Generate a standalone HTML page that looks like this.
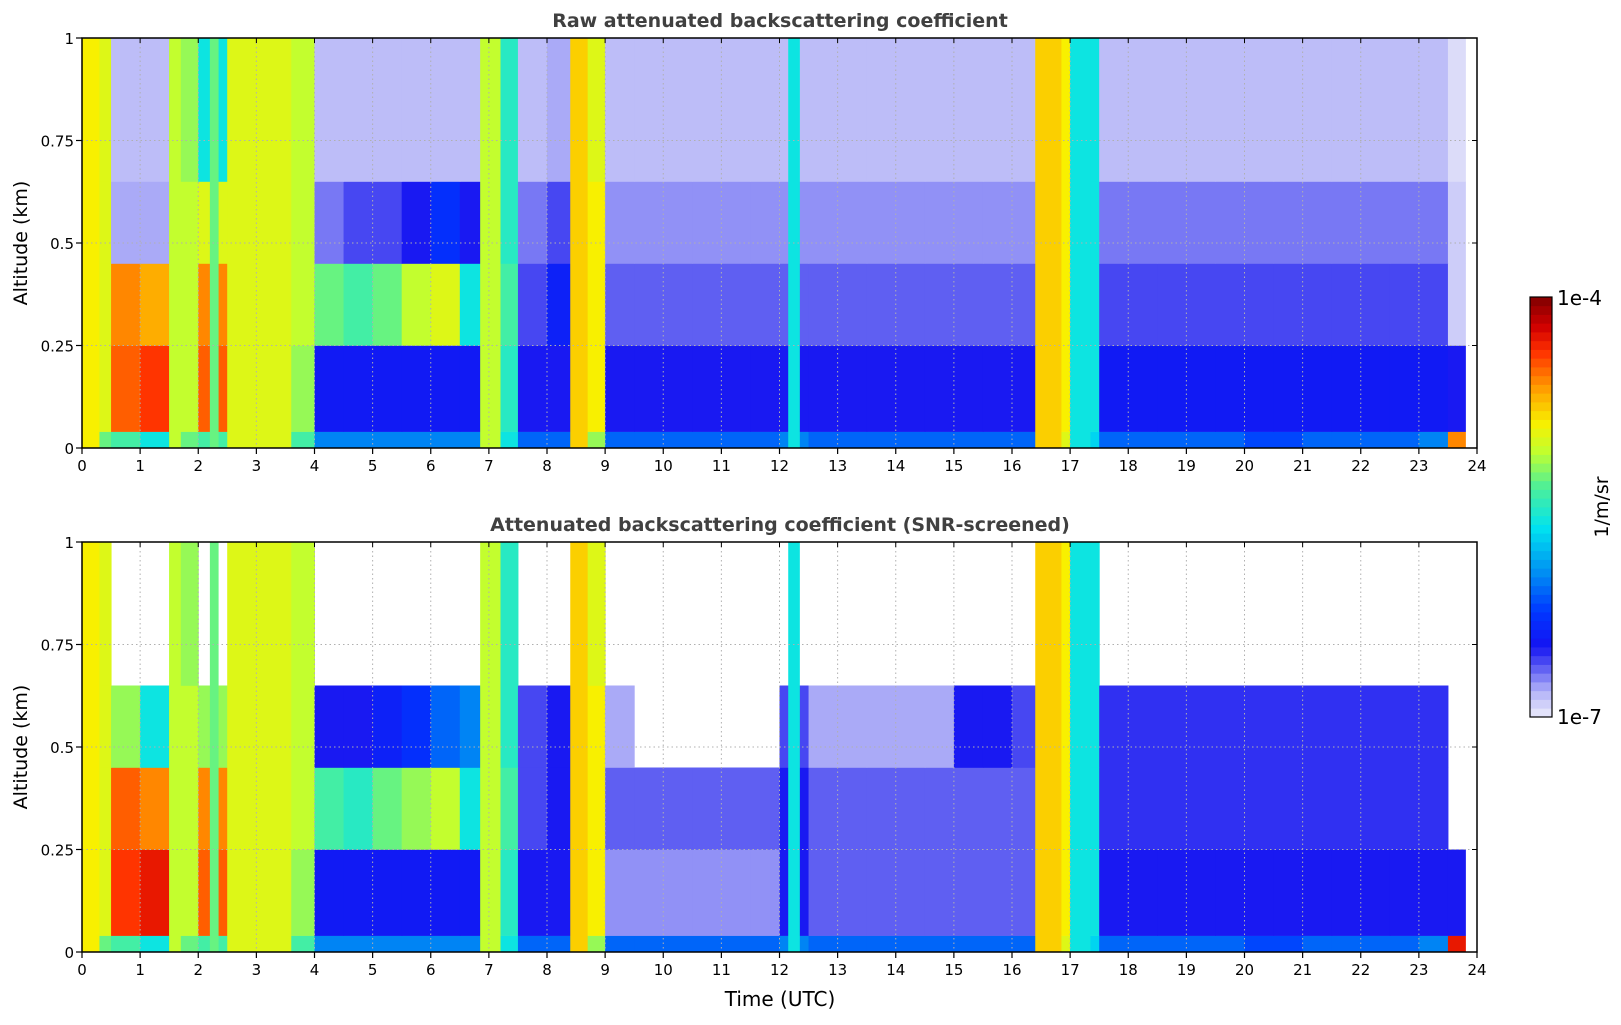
<!DOCTYPE html>
<html><head><meta charset="utf-8">
<style>
body{margin:0;background:#fff;width:1621px;height:1020px;overflow:hidden;font-family:"Liberation Sans","DejaVu Sans",sans-serif;}
svg text{font-family:"DejaVu Sans","Liberation Sans",sans-serif;}
</style></head>
<body>
<svg id="chart" width="1621" height="1020" xmlns="http://www.w3.org/2000/svg">
<text x="780" y="27" text-anchor="middle" font-size="19" font-weight="bold" fill="#404040">Raw attenuated backscattering coefficient</text>
<text x="780" y="531" text-anchor="middle" font-size="19" font-weight="bold" fill="#404040">Attenuated backscattering coefficient (SNR-screened)</text>
<text x="780" y="1006" text-anchor="middle" font-size="20" fill="#000">Time (UTC)</text>
<text transform="translate(27,243) rotate(-90)" text-anchor="middle" font-size="19">Altitude (km)</text>
<text transform="translate(27,747) rotate(-90)" text-anchor="middle" font-size="19">Altitude (km)</text>
<g id="cbar"></g>
<text x="1557" y="305" font-size="20">1e-4</text>
<text x="1557" y="724" font-size="20">1e-7</text>
<text transform="translate(1608,507) rotate(-90)" text-anchor="middle" font-size="19">1/m/sr</text>
</svg>
<script>
// altitude layer boundaries (km)
const layerBounds = [0, 0.04, 0.25, 0.45, 0.65, 1.0];
// 48 half-hour bins, values = log10 backscatter (null = no data)
const rawL0 = [-5.3,-5.4,-5.6,-5.3,-5.4,-5.2,-5.2,-5.4,-6.0,-6.0,-6.0,-6.0,-6.0,-6.0,-5.6,-6.1,-6.1,-5.2,-6.1,-6.1,-6.1,-6.1,-6.1,-6.1,-6.0,-6.1,-6.1,-6.1,-6.1,-6.1,-6.1,-6.1,-6.1,-5.0,-5.7,-6.1,-6.1,-6.1,-6.1,-6.1,-6.2,-6.2,-6.1,-6.1,-6.1,-6.1,-6.0,-4.6];
const rawL1 = [-5.0,-4.5,-4.4,-5.1,-4.5,-5.0,-5.0,-5.2,-6.45,-6.45,-6.45,-6.45,-6.45,-6.45,-5.5,-6.5,-6.5,-4.9,-6.5,-6.5,-6.5,-6.5,-6.5,-6.5,-6.5,-6.5,-6.5,-6.5,-6.5,-6.5,-6.5,-6.5,-6.5,-4.9,-5.6,-6.45,-6.45,-6.45,-6.45,-6.45,-6.45,-6.45,-6.45,-6.45,-6.45,-6.45,-6.45,-6.5];
const rawL2 = [-5.0,-4.6,-4.7,-5.1,-4.6,-5.0,-5.0,-5.1,-5.3,-5.4,-5.3,-5.1,-5.0,-5.6,-5.4,-6.6,-6.4,-4.9,-6.65,-6.65,-6.65,-6.65,-6.65,-6.65,-6.65,-6.65,-6.65,-6.65,-6.65,-6.65,-6.65,-6.65,-6.65,-4.9,-5.6,-6.6,-6.6,-6.6,-6.6,-6.6,-6.6,-6.6,-6.6,-6.6,-6.6,-6.6,-6.6,-6.9];
const rawL3 = [-5.0,-6.8,-6.8,-5.1,-5.0,-5.0,-5.0,-5.1,-6.7,-6.6,-6.6,-6.5,-6.3,-6.5,-5.5,-6.7,-6.6,-4.9,-6.75,-6.75,-6.75,-6.75,-6.75,-6.75,-6.75,-6.75,-6.75,-6.75,-6.75,-6.75,-6.75,-6.75,-6.75,-4.9,-5.6,-6.7,-6.7,-6.7,-6.7,-6.7,-6.7,-6.7,-6.7,-6.7,-6.7,-6.7,-6.7,-6.9];
const rawL4 = [-5.0,-6.85,-6.85,-5.2,-5.6,-5.0,-5.0,-5.1,-6.85,-6.85,-6.85,-6.85,-6.85,-6.85,-5.5,-6.85,-6.8,-5.0,-6.85,-6.85,-6.85,-6.85,-6.85,-6.85,-6.85,-6.85,-6.85,-6.85,-6.85,-6.85,-6.85,-6.85,-6.85,-4.9,-5.6,-6.85,-6.85,-6.85,-6.85,-6.85,-6.85,-6.85,-6.85,-6.85,-6.85,-6.85,-6.85,-6.95];
const scrL0 = [-5.3,-5.4,-5.6,-5.3,-5.4,-5.2,-5.2,-5.4,-6.0,-6.0,-6.0,-6.0,-6.0,-6.0,-5.6,-6.1,-6.1,-5.2,-6.1,-6.1,-6.1,-6.1,-6.1,-6.1,-6.0,-6.1,-6.1,-6.1,-6.1,-6.1,-6.1,-6.1,-6.1,-5.0,-5.7,-6.1,-6.1,-6.1,-6.1,-6.1,-6.2,-6.2,-6.1,-6.1,-6.1,-6.1,-6.0,-4.3];
const scrL1 = [-5.0,-4.4,-4.3,-5.1,-4.5,-5.0,-5.0,-5.2,-6.45,-6.45,-6.45,-6.45,-6.45,-6.45,-5.5,-6.5,-6.5,-4.9,-6.75,-6.75,-6.75,-6.75,-6.75,-6.75,-6.5,-6.65,-6.65,-6.65,-6.65,-6.65,-6.65,-6.65,-6.65,-4.9,-5.6,-6.5,-6.5,-6.5,-6.5,-6.5,-6.5,-6.5,-6.5,-6.5,-6.5,-6.5,-6.5,-6.5];
const scrL2 = [-5.0,-4.5,-4.6,-5.1,-4.6,-5.0,-5.0,-5.1,-5.4,-5.5,-5.3,-5.2,-5.1,-5.6,-5.4,-6.6,-6.5,-4.9,-6.65,-6.65,-6.65,-6.65,-6.65,-6.65,-6.5,-6.65,-6.65,-6.65,-6.65,-6.65,-6.65,-6.65,-6.65,-4.9,-5.6,-6.55,-6.55,-6.55,-6.55,-6.55,-6.55,-6.55,-6.55,-6.55,-6.55,-6.55,-6.55,null];
const scrL3 = [-5.0,-5.2,-5.6,-5.1,-5.2,-5.0,-5.0,-5.1,-6.5,-6.5,-6.4,-6.3,-6.1,-6.0,-5.5,-6.6,-6.5,-4.9,-6.8,null,null,null,null,null,-6.6,-6.8,-6.8,-6.8,-6.8,-6.8,-6.5,-6.5,-6.6,-4.9,-5.6,-6.55,-6.55,-6.55,-6.55,-6.55,-6.55,-6.55,-6.55,-6.55,-6.55,-6.55,-6.55,null];
const scrL4 = [-5.0,null,null,-5.2,null,-5.0,-5.0,-5.1,null,null,null,null,null,null,-5.5,null,null,-5.0,null,null,null,null,null,null,null,null,null,null,null,null,null,null,null,-4.9,-5.6,null,null,null,null,null,null,null,null,null,null,null,null,null];
// vertical column events: start hour, end hour, value
const colStart = [0.0, 1.5, 2.2, 2.5, 6.85, 8.4, 12.15, 16.4, 17.0];
const colEnd   = [0.3, 1.7, 2.35, 3.6, 7.2, 8.7, 12.35, 16.85, 17.35];
const colValue = [-4.9, -5.1, -5.3, -5.0, -5.1, -4.8, -5.6, -4.8, -5.6];
const xTicks = [0,1,2,3,4,5,6,7,8,9,10,11,12,13,14,15,16,17,18,19,20,21,22,23,24];
const yTicks = [0,0.25,0.5,0.75,1];
const yTickLabels = ["0","0.25","0.5","0.75","1"];
const dataEnd = 23.8;

const NS="http://www.w3.org/2000/svg";
const svg=document.getElementById('chart');
const X0=82, X1=1477;
const panels=[{top:38,bot:448,layers:[rawL0,rawL1,rawL2,rawL3,rawL4],name:'raw'},
              {top:542,bot:952,layers:[scrL0,scrL1,scrL2,scrL3,scrL4],name:'screened'}];
const stops=[[0,'#ececfa'],[0.06,'#b4b4f8'],[0.12,'#5a5af2'],[0.17,'#1414f2'],[0.25,'#0036ff'],[0.35,'#0094f2'],[0.45,'#00e2f0'],[0.55,'#50f096'],[0.63,'#c0ff30'],[0.70,'#f8f000'],[0.78,'#ffa000'],[0.87,'#ff3000'],[0.93,'#d00000'],[1,'#800000']];
function hex(c){return [1,3,5].map(i=>parseInt(c.substr(i,2),16));}
function cmap(v){let t=Math.max(0,Math.min(1,(v+7)/3));
  for(let i=1;i<stops.length;i++){if(t<=stops[i][0]){const a=stops[i-1],b=stops[i];const f=(t-a[0])/(b[0]-a[0]);const ca=hex(a[1]),cb=hex(b[1]);
    return 'rgb('+ca.map((x,k)=>Math.round(x+(cb[k]-x)*f)).join(',')+')';}}
  return stops[stops.length-1][1];}
function xs(t){return X0+t/24*(X1-X0);}
function mk(tag,attrs,parent){const e=document.createElementNS(NS,tag);for(const k in attrs)e.setAttribute(k,attrs[k]);(parent||svg).appendChild(e);return e;}

panels.forEach(p=>{
  const ys=a=>p.bot-a*(p.bot-p.top);
  const g=mk('g',{});
  
  
  p.layers.forEach((arr,li)=>{
    arr.forEach((v,i)=>{
      if(v===null)return;
      const t0=i*0.5, t1=Math.min((i+1)*0.5,dataEnd);
      if(t1<=t0)return;
      const r=mk('rect',{x:xs(t0),y:ys(layerBounds[li+1]),width:xs(t1)-xs(t0)+0.5,height:ys(layerBounds[li])-ys(layerBounds[li+1])+0.3,fill:cmap(v)},g);
      
      
    });
  });
  colStart.forEach((s,i)=>{
    const r=mk('rect',{x:xs(s),y:ys(1),width:xs(colEnd[i])-xs(s),height:ys(0)-ys(1),fill:cmap(colValue[i])},g);
    
    
  });
  xTicks.forEach(t=>{if(t>0&&t<24){const l=mk('line',{x1:xs(t),x2:xs(t),y1:p.top,y2:p.bot,stroke:'#b0b0b0','stroke-dasharray':'1.5,3','stroke-width':1});
    
    }});
  yTicks.forEach(a=>{if(a>0&&a<1){const l=mk('line',{x1:X0,x2:X1,y1:ys(a),y2:ys(a),stroke:'#b0b0b0','stroke-dasharray':'1.5,3','stroke-width':1});
    
    }});
  const fr=mk('rect',{x:X0,y:p.top,width:X1-X0,height:p.bot-p.top,fill:'none',stroke:'#000','stroke-width':1.5});
  
  
  xTicks.forEach(t=>{
    mk('line',{x1:xs(t),x2:xs(t),y1:p.bot,y2:p.bot+6,stroke:'#000','stroke-width':1.2});
    mk('line',{x1:xs(t),x2:xs(t),y1:p.top,y2:p.top+5,stroke:'#000','stroke-width':1});
    const tx=mk('text',{x:xs(t),y:p.bot+23,'text-anchor':'middle','font-size':15});
    tx.textContent=t;
    
    
  });
  yTicks.forEach((a,i)=>{
    mk('line',{x1:X0-6,x2:X0,y1:ys(a),y2:ys(a),stroke:'#000','stroke-width':1.2});
    mk('line',{x1:X1-5,x2:X1,y1:ys(a),y2:ys(a),stroke:'#000','stroke-width':1});
    const tx=mk('text',{x:X0-8,y:ys(a)+6,'text-anchor':'end','font-size':15});
    tx.textContent=yTickLabels[i];
    
    
  });
});
const cb=document.getElementById('cbar');
const CBX=1530,CBW=22,CBT=297,CBB=717,N=48;
for(let i=0;i<N;i++){
  const v=-7+(i+0.5)/N*3;
  const h=(CBB-CBT)/N;
  const r=mk('rect',{x:CBX,y:CBB-(i+1)*h,width:CBW,height:h+0.4,fill:cmap(v)},cb);
  
  
}
mk('rect',{x:CBX,y:CBT,width:CBW,height:CBB-CBT,fill:'none',stroke:'#000','stroke-width':1.2},cb);
</script>
</body></html>
